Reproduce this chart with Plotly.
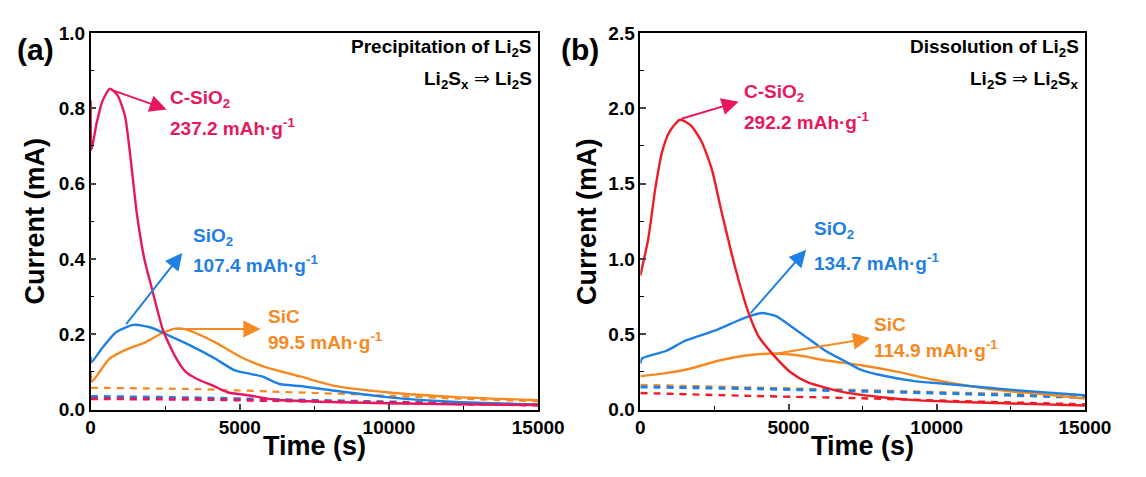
import plotly.graph_objects as go

# ---------------- panel (a): precipitation of Li2S ----------------
t_a_csio2 = [0, 30, 200, 400, 650, 900, 1150, 1350, 1550, 1800, 2025, 2430, 2840, 3190, 3600,
             4120, 4585, 5280, 6210, 7610, 9935, 12260, 15000]
i_a_csio2 = [0.82, 0.69, 0.76, 0.82, 0.852, 0.835, 0.78, 0.66, 0.52, 0.40, 0.33, 0.21, 0.14, 0.10, 0.08,
             0.063, 0.046, 0.038, 0.026, 0.021, 0.017, 0.014, 0.012]

t_a_sio2 = [0, 20, 395, 860, 1442, 2023, 2605, 3302, 4116, 4814, 5279, 5744, 6325, 7023, 8186,
            9930, 12256, 15000]
i_a_sio2 = [0.14, 0.125, 0.164, 0.206, 0.225, 0.218, 0.197, 0.172, 0.138, 0.105, 0.096, 0.088, 0.068,
            0.0625, 0.050, 0.033, 0.020, 0.0135]

t_a_sic = [0, 50, 628, 1210, 1791, 2372, 2837, 3186, 4116, 5046, 5860, 7023, 8186, 9930, 12256, 15000]
i_a_sic = [0.10, 0.075, 0.135, 0.160, 0.177, 0.202, 0.215, 0.213, 0.181, 0.139, 0.113, 0.088, 0.063,
           0.046, 0.033, 0.025]

t_a_ref = [0, 3700, 6000, 9000, 12000, 15000]
i_a_sic_ref = [0.058, 0.054, 0.048, 0.040, 0.030, 0.022]
i_a_sio2_ref = [0.035, 0.031, 0.027, 0.022, 0.017, 0.013]
i_a_csio2_ref = [0.029, 0.027, 0.024, 0.020, 0.016, 0.012]

# ---------------- panel (b): dissolution of Li2S ----------------
t_b_csio2 = [0, 264, 503, 743, 982, 1342, 1701, 2061, 2420, 2720, 3000, 3259, 3618, 3978, 4457,
             5056, 5655, 6853, 8051, 9249, 10447, 12244, 15000]
i_b_csio2 = [0.89, 1.13, 1.465, 1.717, 1.844, 1.924, 1.886, 1.781, 1.59, 1.33, 1.10, 0.90, 0.66, 0.49,
             0.37, 0.25, 0.18, 0.116, 0.084, 0.063, 0.053, 0.042, 0.027]

t_b_sio2 = [0, 60, 863, 1462, 2061, 2660, 3259, 3738, 4097, 4577, 5056, 5655, 6254, 6853, 7452,
            8051, 9249, 10447, 11645, 12843, 15000]
i_b_sio2 = [0.305, 0.34, 0.389, 0.452, 0.494, 0.536, 0.588, 0.624, 0.641, 0.620, 0.557, 0.473, 0.389,
            0.326, 0.263, 0.231, 0.189, 0.168, 0.147, 0.126, 0.095]

t_b_sic = [0, 863, 1701, 2660, 3498, 4457, 5415, 6254, 7452, 8650, 9848, 11046, 12244, 13442, 15000]
i_b_sic = [0.221, 0.242, 0.273, 0.326, 0.357, 0.372, 0.357, 0.326, 0.294, 0.252, 0.200, 0.158, 0.126,
           0.105, 0.074]

t_b_ref = [0, 3700, 7500, 11000, 15000]
i_b_sic_ref = [0.163, 0.146, 0.128, 0.110, 0.090]
i_b_sio2_ref = [0.150, 0.139, 0.122, 0.104, 0.080]
i_b_csio2_ref = [0.110, 0.091, 0.075, 0.055, 0.035]

# x tick labels
time_ticks = [0, 5000, 10000, 15000]
time_ticktext = ["0", "5000", "10000", "15000"]

# capacity labels
cap_a = {"C-SiO<sub>2</sub>": "237.2", "SiO<sub>2</sub>": "107.4", "SiC": "99.5"}
cap_b = {"C-SiO<sub>2</sub>": "292.2", "SiO<sub>2</sub>": "134.7", "SiC": "114.9"}

CRIMSON = "#E8175D"
RED = "#EE1C25"
BLUE = "#1F80E3"
ORANGE = "#F58A22"
FONT = "Liberation Sans, Arial, sans-serif"

W, H = 1146, 477
fig = go.Figure()


def line(x, y, color, xa, ya, dash=None, width=2.4):
    fig.add_trace(go.Scatter(
        x=x, y=y, mode="lines", xaxis=xa, yaxis=ya, showlegend=False,
        line=dict(color=color, width=width, dash=dash, shape="spline", smoothing=0.6),
        hoverinfo="skip"))


DASH = "7px,6px"
# panel (a)
line(t_a_ref, i_a_sic_ref, ORANGE, "x", "y", DASH, 2.2)
line(t_a_ref, i_a_sio2_ref, BLUE, "x", "y", DASH, 3.0)
line(t_a_ref, i_a_csio2_ref, CRIMSON, "x", "y", DASH, 3.0)
line(t_a_sic, i_a_sic, ORANGE, "x", "y")
line(t_a_sio2, i_a_sio2, BLUE, "x", "y")
line(t_a_csio2, i_a_csio2, CRIMSON, "x", "y")
# panel (b)
line(t_b_ref, i_b_sic_ref, ORANGE, "x2", "y2", DASH, 2.6)
line(t_b_ref, i_b_sio2_ref, BLUE, "x2", "y2", DASH, 3.0)
line(t_b_ref, i_b_csio2_ref, RED, "x2", "y2", DASH, 2.4)
line(t_b_sic, i_b_sic, ORANGE, "x2", "y2")
line(t_b_sio2, i_b_sio2, BLUE, "x2", "y2")
line(t_b_csio2, i_b_csio2, RED, "x2", "y2")

tickfont = dict(family=FONT, size=19, color="black", weight="bold")
common_x = dict(range=[0, 15000], tickvals=time_ticks, ticktext=time_ticktext, ticks="inside", ticklen=6,
                tickwidth=1.5, showline=True, linecolor="black", linewidth=1.5, mirror=True,
                showgrid=False, zeroline=False, tickfont=tickfont,
                minor=dict(tickvals=[2500, 7500, 12500], ticks="inside", ticklen=4, tickwidth=1.2,
                           tickcolor="black"))
common_y = dict(ticks="inside", ticklen=6, tickwidth=1.5, showline=True, linecolor="black",
                linewidth=1.5, mirror=True, showgrid=False, zeroline=False, tickfont=tickfont)

ydom = [1 - 418 / H, 1 - 24 / H]
fig.update_layout(
    width=W, height=H, margin=dict(l=0, r=0, t=0, b=0),
    paper_bgcolor="white", plot_bgcolor="white",
    xaxis=dict(domain=[88 / W, 548 / W], anchor="y", **common_x),
    yaxis=dict(domain=ydom, anchor="x", range=[0, 1.0], dtick=0.2, tickformat=".1f",
               minor=dict(dtick=0.1, ticks="inside", ticklen=4, tickwidth=1.2, tickcolor="black"),
               **common_y),
    xaxis2=dict(domain=[653 / W, 1110 / W], anchor="y2", **common_x),
    yaxis2=dict(domain=ydom, anchor="x2", range=[0, 2.5], dtick=0.5, tickformat=".1f",
                minor=dict(dtick=0.25, ticks="inside", ticklen=4, tickwidth=1.2, tickcolor="black"),
                **common_y),
)

ann = []


def arrow(xr, yr, tail, head, color):
    ann.append(dict(xref=xr, yref=yr, axref=xr, ayref=yr, x=head[0], y=head[1], ax=tail[0], ay=tail[1],
                    showarrow=True, arrowhead=2, arrowsize=1.7, arrowwidth=2, arrowcolor=color, text=""))


def label(xr, yr, x, y, text, color, size=19):
    ann.append(dict(xref=xr, yref=yr, x=x, y=y, text=text, showarrow=False, xanchor="left",
                    yanchor="middle", font=dict(family=FONT, size=size, color=color, weight="bold")))


# panel (a) arrows and capacity labels
arrow("x", "y", (628, 0.851), (2548, 0.797), CRIMSON)
arrow("x", "y", (1152, 0.223), (3072, 0.416), BLUE)
arrow("x", "y", (2840, 0.214), (5690, 0.214), ORANGE)
label("x", "y", 2607, 0.824, "C-SiO<sub>2</sub>", CRIMSON)
label("x", "y", 2607, 0.750, cap_a["C-SiO<sub>2</sub>"] + " mAh·g<sup>-1</sup>", CRIMSON)
label("x", "y", 3363, 0.458, "SiO<sub>2</sub>", BLUE)
label("x", "y", 3363, 0.387, cap_a["SiO<sub>2</sub>"] + " mAh·g<sup>-1</sup>", BLUE)
label("x", "y", 5865, 0.248, "SiC", ORANGE)
label("x", "y", 5865, 0.181, cap_a["SiC"] + " mAh·g<sup>-1</sup>", ORANGE)

# panel (b) arrows and capacity labels
arrow("x2", "y2", (1342, 1.928), (3319, 2.044), CRIMSON)
arrow("x2", "y2", (3678, 0.630), (5595, 1.061), BLUE)
arrow("x2", "y2", (4457, 0.368), (7751, 0.473), ORANGE)
label("x2", "y2", 3438, 2.10, "C-SiO<sub>2</sub>", CRIMSON)
label("x2", "y2", 3438, 1.917, cap_b["C-SiO<sub>2</sub>"] + " mAh·g<sup>-1</sup>", CRIMSON)
label("x2", "y2", 5775, 1.192, "SiO<sub>2</sub>", BLUE)
label("x2", "y2", 5775, 0.977, cap_b["SiO<sub>2</sub>"] + " mAh·g<sup>-1</sup>", BLUE)
label("x2", "y2", 7812, 0.567, "SiC", ORANGE)
label("x2", "y2", 7812, 0.399, cap_b["SiC"] + " mAh·g<sup>-1</sup>", ORANGE)


def paper_text(px, py, text, size, xanchor="left", angle=0, bold=True):
    ann.append(dict(xref="paper", yref="paper", x=px / W, y=1 - py / H, text=text, showarrow=False,
                    xanchor=xanchor, yanchor="middle", textangle=angle,
                    font=dict(family=FONT, size=size, color="black", weight="bold" if bold else "normal")))


# panel letters
paper_text(10, 41, "(a)", 30)
paper_text(569, 41, "(b)", 30)
# axis titles
paper_text(31, 221, "Current (mA)", 27, xanchor="center", angle=-90)
paper_text(598, 221, "Current (mA)", 27, xanchor="center", angle=-90)
paper_text(318, 456, "Time (s)", 27, xanchor="center")
paper_text(881, 456, "Time (s)", 27, xanchor="center")
# reaction notes
ARROW = "\u00a0<span style='font-weight:normal'>\u21d2</span>\u00a0"
paper_text(544, 40, "Precipitation of Li<sub>2</sub>S", 19, xanchor="right")
paper_text(544, 73, "Li<sub>2</sub>S<sub>x</sub>" + ARROW + "Li<sub>2</sub>S", 19, xanchor="right")
paper_text(1106, 40, "Dissolution of Li<sub>2</sub>S", 19, xanchor="right")
paper_text(1106, 73, "Li<sub>2</sub>S" + ARROW + "Li<sub>2</sub>S<sub>x</sub>", 19, xanchor="right")

fig.update_layout(annotations=ann)
fig.write_html("out.html")
